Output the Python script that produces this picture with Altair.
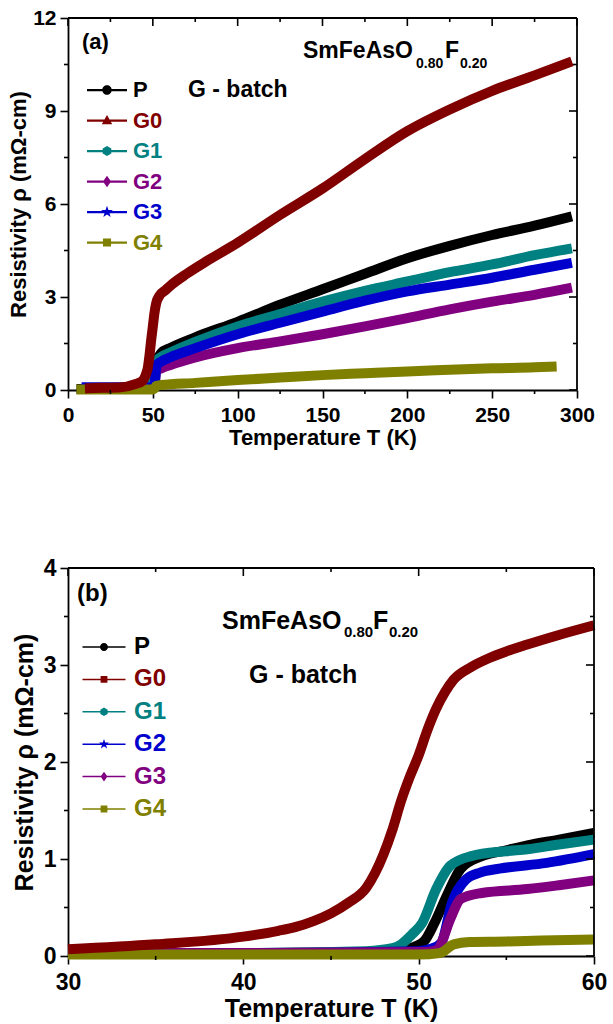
import math
import altair as alt
import pandas as pd

SERIES = ["P", "G0", "G1", "G2", "G3", "G4"]
DRAW_ORDER = ["P", "G1", "G2", "G3", "G4", "G0"]

# ---------------- Panel (a): 0-300 K ----------------
A_P_T = [5, 20, 40, 48, 50, 51, 52, 55, 60, 75, 100, 125, 150, 175, 200, 225, 250, 275, 297]
A_P_R = [0.03, 0.03, 0.03, 0.05, 0.1, 0.4, 0.9, 1.2, 1.35, 1.7, 2.2, 2.75, 3.25, 3.75, 4.25, 4.65, 5.0, 5.3, 5.6]
A_G0_T = [10, 20, 30, 40, 44, 46, 47, 48, 49, 50, 51, 52, 54, 57, 60, 70, 80, 100, 125, 150, 175, 200, 225, 250, 275, 297]
A_G0_R = [0.05, 0.07, 0.08, 0.2, 0.3, 0.52, 0.7, 1.1, 1.6, 2.05, 2.5, 2.8, 3.05, 3.2, 3.35, 3.75, 4.1, 4.75, 5.65, 6.5, 7.45, 8.35, 9.05, 9.65, 10.15, 10.6]
A_G1_T = [8, 30, 48, 49, 50, 51, 52, 55, 60, 75, 100, 125, 150, 175, 200, 225, 250, 275, 297]
A_G1_R = [0.03, 0.03, 0.05, 0.1, 0.34, 0.69, 0.93, 1.07, 1.2, 1.55, 2.05, 2.45, 2.85, 3.2, 3.5, 3.8, 4.05, 4.35, 4.57]
A_G2_T = [8, 30, 50, 51, 51.5, 52, 53, 55, 60, 75, 100, 125, 150, 175, 200, 225, 250, 275, 297]
A_G2_R = [0.03, 0.03, 0.05, 0.1, 0.38, 0.59, 0.65, 0.7, 0.8, 1.05, 1.35, 1.57, 1.8, 2.05, 2.32, 2.6, 2.85, 3.07, 3.3]
A_G3_T = [8, 30, 45, 50, 51, 51.5, 52, 53, 55, 60, 75, 100, 125, 150, 175, 200, 225, 250, 275, 297]
A_G3_R = [0.09, 0.09, 0.09, 0.1, 0.14, 0.45, 0.7, 0.85, 0.92, 1.05, 1.35, 1.8, 2.17, 2.53, 2.88, 3.18, 3.4, 3.62, 3.88, 4.1]
A_G4_T = [5, 20, 40, 50, 51, 52, 55, 75, 100, 125, 150, 175, 200, 225, 250, 275, 288]
A_G4_R = [0.02, 0.02, 0.02, 0.02, 0.05, 0.13, 0.16, 0.23, 0.32, 0.4, 0.48, 0.54, 0.6, 0.65, 0.7, 0.73, 0.76]

A_COLORS = ["#000000", "#800000", "#008080", "#800080", "#0000cc", "#808000"]
A_MARKERS = ["circle", "triangle", "hexagon", "diamond", "star", "square"]
A_X_MAJOR = [0, 50, 100, 150, 200, 250, 300]
A_X_MINOR = [25, 75, 125, 175, 225, 275]
A_Y_MAJOR = [0, 3, 6, 9, 12]
A_Y_MINOR = [1.5, 4.5, 7.5, 10.5]

# ---------------- Panel (b): 30-60 K ----------------
B_P_T = [30, 40, 48, 49.5, 50.3, 50.9, 51.6, 52.4, 53.6, 55, 56.2, 58, 60]
B_P_R = [0.03, 0.03, 0.04, 0.08, 0.15, 0.34, 0.62, 0.9, 1.03, 1.09, 1.14, 1.2, 1.27]
B_G0_T = [30, 35, 40, 42, 43, 44, 45, 46, 47, 47.5, 48, 48.5, 49, 49.5, 50, 50.5, 51, 51.5, 52, 53, 54, 55, 56, 58, 60]
B_G0_R = [0.07, 0.12, 0.2, 0.26, 0.3, 0.36, 0.44, 0.55, 0.7, 0.85, 1.05, 1.3, 1.6, 1.85, 2.07, 2.33, 2.55, 2.72, 2.85, 2.98, 3.07, 3.14, 3.2, 3.31, 3.41]
B_G1_T = [30, 40, 47, 48.5, 49, 49.6, 50.2, 51, 51.8, 53, 55, 56.2, 58, 60]
B_G1_R = [0.03, 0.03, 0.05, 0.08, 0.12, 0.22, 0.34, 0.69, 0.93, 1.03, 1.08, 1.1, 1.15, 1.2]
B_G2_T = [30, 40, 50, 50.8, 51.3, 51.9, 52.7, 53.5, 54.6, 57.3, 60]
B_G2_R = [0.03, 0.03, 0.05, 0.08, 0.14, 0.55, 0.79, 0.86, 0.9, 0.96, 1.05]
B_G3_T = [30, 40, 50, 50.8, 51.1, 51.8, 52.4, 53.6, 56.2, 58, 60]
B_G3_R = [0.03, 0.03, 0.04, 0.05, 0.07, 0.38, 0.59, 0.65, 0.69, 0.73, 0.78]
B_G4_T = [30, 40, 50, 51.2, 52, 52.9, 55, 57, 60]
B_G4_R = [0.015, 0.015, 0.015, 0.03, 0.12, 0.145, 0.15, 0.16, 0.17]

B_COLORS = ["#000000", "#800000", "#008080", "#0000cc", "#800080", "#808000"]
B_MARKERS = ["circle", "square", "hexagon", "star", "diamond", "square"]
B_X_MAJOR = [30, 40, 50, 60]
B_X_MINOR = [35, 45, 55]
B_Y_MAJOR = [0, 1, 2, 3, 4]
B_Y_MINOR = [0.5, 1.5, 2.5, 3.5]

FONT = "Liberation Sans"


def f(v):
    return f"{v:.3f}".rstrip("0").rstrip(".")


def marker_path(kind, r):
    if kind == "circle":
        return f"M0,{f(-r)}A{f(r)},{f(r)} 0 1,1 0,{f(r)}A{f(r)},{f(r)} 0 1,1 0,{f(-r)}Z"
    if kind == "triangle":
        return f"M0,{f(-1.15*r)}L{f(1.1*r)},{f(0.8*r)}L{f(-1.1*r)},{f(0.8*r)}Z"
    if kind == "square":
        s = 0.85 * r
        return f"M{f(-s)},{f(-s)}H{f(s)}V{f(s)}H{f(-s)}Z"
    if kind == "diamond":
        return f"M0,{f(-1.2*r)}L{f(0.85*r)},0L0,{f(1.2*r)}L{f(-0.85*r)},0Z"
    if kind == "hexagon":
        pts = [(1.05 * r * math.cos(math.radians(-90 + 60 * k)),
                1.05 * r * math.sin(math.radians(-90 + 60 * k))) for k in range(6)]
        return "M" + "L".join(f"{f(x)},{f(y)}" for x, y in pts) + "Z"
    if kind == "star":
        pts = []
        for k in range(10):
            a = math.radians(-90 + 36 * k)
            rad = 1.3 * r if k % 2 == 0 else 0.52 * r
            pts.append((rad * math.cos(a), rad * math.sin(a)))
        return "M" + "L".join(f"{f(x)},{f(y)}" for x, y in pts) + "Z"
    return ""


def glyph(kind, half_len, thick, r):
    # legend glyph: thin line through a filled marker (all sub-paths clockwise)
    t = thick / 2
    a = r * 0.5
    segs = (f"M{f(-half_len)},{f(-t)}H{f(-a)}V{f(t)}H{f(-half_len)}Z"
            f"M{f(a)},{f(-t)}H{f(half_len)}V{f(t)}H{f(a)}Z")
    return segs + marker_path(kind, r)


def build_df(ts, rs):
    rows = []
    for name in DRAW_ORDER:
        i = SERIES.index(name)
        for T, R in zip(ts[i], rs[i]):
            rows.append({"series": name, "T": T, "rho": R, "z": DRAW_ORDER.index(name)})
    return pd.DataFrame(rows)


def panel(df, colors, markers, xdom, xmaj, xmin, ydom, ymaj, ymin, W, H,
          tick_fs, title_fs, leg, texts, xlabpad, ylabpad, xtitlepad, ytitlepad):
    xs = alt.Scale(domain=xdom, nice=False, zero=False)
    ys = alt.Scale(domain=ydom, nice=False, zero=False)
    cscale = alt.Scale(domain=SERIES, range=colors)

    common = dict(grid=False, domain=True, domainColor="black", domainWidth=1.8,
                  tickColor="black", tickWidth=1.6, tickSize=8,
                  labelFont=FONT, labelFontWeight="bold", labelFontSize=tick_fs,
                  labelColor="black", titleFont=FONT, titleFontWeight="bold",
                  titleFontSize=title_fs, titleColor="black", labelOverlap=False)
    x_main = alt.Axis(orient="bottom", values=xmaj, format="d", labelPadding=xlabpad,
                      title="Temperature T (K)", titlePadding=xtitlepad, labelFlush=False, **common)
    y_main = alt.Axis(orient="left", values=ymaj, format="d", labelPadding=ylabpad,
                      title="Resistivity ρ (mΩ-cm)", titlePadding=ytitlepad, **common)

    lines = alt.Chart(df).mark_line(strokeWidth=10, strokeCap="butt", strokeJoin="round",
                                    interpolate="monotone").encode(
        x=alt.X("T:Q", scale=xs, axis=x_main),
        y=alt.Y("rho:Q", scale=ys, axis=y_main),
        color=alt.Color("series:N", scale=cscale, legend=None),
        detail="z:O",
        order="T:Q",
    )
    layers = [lines]

    # minor ticks and mirrored (inward) ticks, placed through the same scales
    def xticks(vals, y0, y1):
        return alt.Chart(pd.DataFrame({"v": vals})).mark_rule(color="black", strokeWidth=1.6).encode(
            x=alt.X("v:Q", scale=xs, axis=None), y=alt.value(y0), y2=alt.value(y1))

    def yticks(vals, x0, x1):
        return alt.Chart(pd.DataFrame({"v": vals})).mark_rule(color="black", strokeWidth=1.6).encode(
            y=alt.Y("v:Q", scale=ys, axis=None), x=alt.value(x0), x2=alt.value(x1))

    layers += [
        xticks(xmin, H, H + 4),
        xticks(xmaj, 0, 8), xticks(xmin, 0, 4),
        yticks(ymin, 0, -4),
        yticks(ymaj, W, W - 8), yticks(ymin, W, W - 4),
    ]

    # legend drawn as marks: glyph (line + marker) and coloured label
    ldf = pd.DataFrame({"series": SERIES,
                        "glyph": [glyph(m, leg["half"], leg["thick"], leg["r"]) for m in markers]})
    lscale = alt.Scale(domain=SERIES, range=[leg["y0"], leg["y1"]], padding=0)
    lbase = alt.Chart(ldf)
    layers += [
        lbase.mark_point(filled=True, opacity=1, size=100, strokeWidth=0).encode(
            x=alt.value(leg["xc"]),
            y=alt.Y("series:N", scale=lscale, axis=None),
            shape=alt.Shape("glyph:N", scale=None),
            color=alt.Color("series:N", scale=cscale, legend=None)),
        lbase.mark_text(align="left", baseline="middle", font=FONT, fontWeight="bold",
                        fontSize=leg["fs"]).encode(
            x=alt.value(leg["tx"]),
            y=alt.Y("series:N", scale=lscale, axis=None),
            text="series:N",
            color=alt.Color("series:N", scale=cscale, legend=None)),
    ]

    for t in texts:
        layers.append(
            alt.Chart(alt.Data(values=[{"k": 0}])).mark_text(
                text=t["text"], font=FONT, fontWeight="bold", fontSize=t["fs"],
                align="left", baseline=t.get("baseline", "alphabetic"), color="black"
            ).encode(x=alt.value(t["x"]), y=alt.value(t["y"]))
        )
    # top / right frame lines
    layers += [
        alt.Chart(alt.Data(values=[{"k": 0}])).mark_rule(color="black", strokeWidth=1.8).encode(
            x=alt.value(0), x2=alt.value(W), y=alt.value(0)),
        alt.Chart(alt.Data(values=[{"k": 0}])).mark_rule(color="black", strokeWidth=1.8).encode(
            x=alt.value(W), y=alt.value(0), y2=alt.value(H)),
    ]
    return alt.layer(*layers).resolve_scale(x="independent", y="independent").properties(
        width=W, height=H)


A_TS = [A_P_T, A_G0_T, A_G1_T, A_G2_T, A_G3_T, A_G4_T]
A_RS = [A_P_R, A_G0_R, A_G1_R, A_G2_R, A_G3_R, A_G4_R]
B_TS = [B_P_T, B_G0_T, B_G1_T, B_G2_T, B_G3_T, B_G4_T]
B_RS = [B_P_R, B_G0_R, B_G1_R, B_G2_R, B_G3_R, B_G4_R]

WA, HA = 509, 372
WB, HB = 526, 388

texts_a = [
    {"text": "(a)", "x": 14, "y": 24, "fs": 22, "baseline": "middle"},
    {"text": "SmFeAsO", "x": 235, "y": 40, "fs": 23},
    {"text": "0.80", "x": 348, "y": 50, "fs": 14},
    {"text": "F", "x": 377, "y": 40, "fs": 23},
    {"text": "0.20", "x": 392, "y": 50, "fs": 14},
    {"text": "G - batch", "x": 120, "y": 72, "fs": 23, "baseline": "middle"},
]
texts_b = [
    {"text": "(b)", "x": 9, "y": 26, "fs": 24, "baseline": "middle"},
    {"text": "SmFeAsO", "x": 154, "y": 61, "fs": 25},
    {"text": "0.80", "x": 276, "y": 69, "fs": 15},
    {"text": "F", "x": 305, "y": 61, "fs": 25},
    {"text": "0.20", "x": 321, "y": 69, "fs": 15},
    {"text": "G - batch", "x": 181, "y": 107, "fs": 25, "baseline": "middle"},
]

# glyph geometry in symbol units (1 unit = 5 px for size 100)
leg_a = {"y0": 72, "y1": 224.5, "xc": 39, "tx": 65, "half": 4.0, "thick": 0.45, "r": 0.95, "fs": 22}
leg_b = {"y0": 79, "y1": 241, "xc": 36, "tx": 66, "half": 4.3, "thick": 0.3, "r": 0.8, "fs": 24}

pa = panel(build_df(A_TS, A_RS), A_COLORS, A_MARKERS, [0, 300], A_X_MAJOR, A_X_MINOR,
           [0, 12], A_Y_MAJOR, A_Y_MINOR, WA, HA, 21, 22, leg_a, texts_a, 6, 4, 2, 2)
pb = panel(build_df(B_TS, B_RS), B_COLORS, B_MARKERS, [30, 60], B_X_MAJOR, B_X_MINOR,
           [0, 4], B_Y_MAJOR, B_Y_MINOR, WB, HB, 23, 25, leg_b, texts_b, 7, 4, 2, 6)

chart = alt.vconcat(pa, pb, spacing=109).resolve_scale(
    x="independent", y="independent", color="independent"
).properties(
    padding={"left": 7, "top": 7, "right": 5, "bottom": 5},
    background="white",
).configure_view(stroke=None)

chart.save("out.html", embed_options={"renderer": "svg", "actions": False})
